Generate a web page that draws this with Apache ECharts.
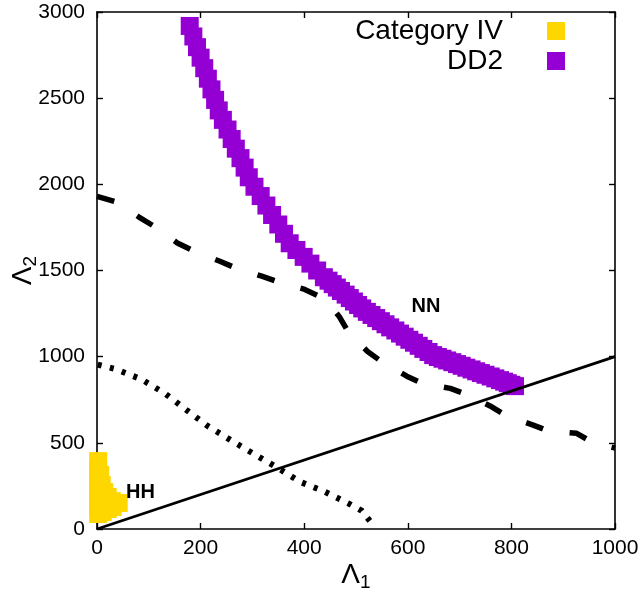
<!DOCTYPE html>
<html><head><meta charset="utf-8">
<script src="https://cdn.jsdelivr.net/npm/echarts@6/dist/echarts.min.js"></script>
<style>html,body{margin:0;padding:0;background:#fff}#c{width:644px;height:594px}</style>
</head><body><div id="c"></div>
<script>
const xTicks = [0, 200, 400, 600, 800, 1000];
const yTicks = [0, 500, 1000, 1500, 2000, 2500, 3000];
const legendNames = ['Category IV', 'DD2'];

const categoryIV = [
  [2.3, 394], [2.3, 342], [2.3, 290], [2.3, 238], [2.3, 186], [2.3, 133], [2.3, 87],
  [6.2, 313], [9.1, 255], [13.9, 214], [20.7, 186], [28.4, 162], [36.1, 151], [41.9, 151],
  [11, 99], [20.7, 116], [30.3, 128]
];

const dd2 = [
  [179, 2919], [186, 2858], [193, 2796], [200, 2735], [207, 2674], [214, 2613], [221, 2551], [228, 2490], [235, 2429],
  [243, 2374], [252, 2318], [260, 2263], [268, 2207], [277, 2152], [285, 2097], [293, 2041],
  [304, 1986], [316, 1932], [327, 1877], [338, 1822], [350, 1767], [361, 1713], [372, 1658],
  [385, 1619], [399, 1579], [412, 1540], [425, 1500], [438, 1461],
  [447, 1441], [455, 1421], [463, 1401], [471, 1381], [480, 1360], [488, 1340], [496, 1320], [504, 1300], [512, 1280], [521, 1260],
  [530, 1242], [539, 1224], [548, 1206], [557, 1188], [566, 1170], [576, 1152], [585, 1134], [594, 1116], [603, 1098],
  [612, 1081], [621, 1063], [630, 1045], [640, 1027], [649, 1009],
  [658, 998], [667, 988], [676, 978], [686, 968], [695, 957], [704, 947], [713, 936], [723, 926], [732, 915],
  [741, 905], [750, 895], [760, 885], [769, 874], [778, 864], [786, 855], [793, 846], [800, 837], [807, 829]
];

const dashedCurve = [
  [0, 1930], [37.5, 1897], [81, 1810], [110, 1757], [155, 1660], [184, 1617], [236, 1555], [266, 1517],
  [318, 1467], [350, 1434], [401, 1390], [432, 1347], [450, 1300], [468, 1231], [485, 1144], [523, 1028],
  [550, 970], [598, 887], [627, 846], [682, 816], [714, 780], [762, 709], [788, 661], [842, 603],
  [872, 568], [926, 555], [958, 500], [1000, 470]
];

const dottedCurve = [
  [1.4, 954], [37.5, 926], [86, 868], [131, 787], [173, 690], [214, 597], [258, 516], [303, 435],
  [347, 358], [392, 274], [440, 216], [485, 149], [511, 106], [527, 46]
];

const diagonal = [[0, 0], [1000, 1000]];

const regionLabels = [[84, 212, 'HH'], [635, 1289, 'NN']];

const FONT = "'Liberation Sans', Arial, Helvetica, sans-serif";
const chart = echarts.init(document.getElementById('c'), null, {renderer: 'canvas'});

function xAxisDef(pos, showLabel) {
  return {
    type: 'value', position: pos,
    min: xTicks[0], max: xTicks[xTicks.length - 1], interval: xTicks[1] - xTicks[0],
    axisLine: {show: true, onZero: false, lineStyle: {color: '#000', width: 1.6}},
    axisTick: {show: true, inside: true, length: 6, lineStyle: {color: '#000', width: 1.4}},
    axisLabel: {show: showLabel, color: '#000', fontSize: 21, fontFamily: FONT, margin: 9,
                formatter: v => String(v)},
    splitLine: {show: false},
    name: showLabel ? '{a|Λ}{b|1}' : '',
    nameLocation: 'middle', nameGap: 30, nameMoveOverlap: false,
    nameTextStyle: {color: '#000', fontFamily: FONT, rich: {
      a: {fontSize: 28, fontFamily: FONT, color: '#000'},
      b: {fontSize: 19, fontFamily: FONT, color: '#000', padding: [14, 0, 0, 0]}
    }}
  };
}
function yAxisDef(pos, showLabel) {
  return {
    type: 'value', position: pos,
    min: yTicks[0], max: yTicks[yTicks.length - 1], interval: yTicks[1] - yTicks[0],
    axisLine: {show: true, onZero: false, lineStyle: {color: '#000', width: 1.6}},
    axisTick: {show: true, inside: true, length: 6, lineStyle: {color: '#000', width: 1.4}},
    axisLabel: {show: showLabel, color: '#000', fontSize: 21, fontFamily: FONT, margin: 12,
                formatter: v => String(v)},
    splitLine: {show: false},
    name: showLabel ? '{a|Λ}{b|2}' : '',
    nameLocation: 'middle', nameGap: 57, nameRotate: 90, nameMoveOverlap: false,
    nameTextStyle: {color: '#000', fontFamily: FONT, rich: {
      a: {fontSize: 28, fontFamily: FONT, color: '#000'},
      b: {fontSize: 19, fontFamily: FONT, color: '#000', padding: [14, 0, 0, 0]}
    }}
  };
}

const option = {
  backgroundColor: '#fff',
  animation: false,
  grid: {left: 97, right: 29, top: 12, bottom: 65, containLabel: false, outerBoundsMode: 'none'},
  legend: {
    data: legendNames,
    orient: 'vertical', align: 'right',
    right: 74, top: 12,
    itemWidth: 18, itemHeight: 18, itemGap: 2,
    icon: 'rect',
    itemStyle: {opacity: 1},
    textStyle: {color: '#000', fontSize: 28, lineHeight: 18, fontFamily: FONT, padding: [0, 39, 0, 0]}
  },
  xAxis: [xAxisDef('bottom', true), xAxisDef('top', false)],
  yAxis: [yAxisDef('left', true), yAxisDef('right', false)],
  series: [
    {name: legendNames[0], type: 'scatter', data: categoryIV, symbol: 'rect', symbolSize: 18,
     itemStyle: {color: '#FFD700', opacity: 1}, clip: false, z: 2},
    {name: legendNames[1], type: 'scatter', data: dd2, symbol: 'rect', symbolSize: 18,
     itemStyle: {color: '#9400D3', opacity: 1}, clip: false, z: 2},
    {name: 'dashed', type: 'line', data: dashedCurve, showSymbol: false, symbol: 'none', z: 3,
     lineStyle: {color: '#000', width: 5.5, type: [18, 27], cap: 'butt'}},
    {name: 'dotted', type: 'line', data: dottedCurve, showSymbol: false, symbol: 'none', z: 3,
     lineStyle: {color: '#000', width: 6, type: [4, 8.5], cap: 'butt'}},
    {name: 'diagonal', type: 'line', data: diagonal, showSymbol: false, symbol: 'none', z: 4,
     lineStyle: {color: '#000', width: 2.8}},
    {name: 'labels', type: 'scatter', data: regionLabels, symbolSize: 0, z: 5,
     itemStyle: {opacity: 1},
     label: {show: true, position: 'inside', formatter: p => p.value[2],
             fontSize: 20, fontWeight: 'bold', fontFamily: FONT, color: '#000', opacity: 1}}
  ]
};
chart.setOption(option);
</script>
</body></html>
